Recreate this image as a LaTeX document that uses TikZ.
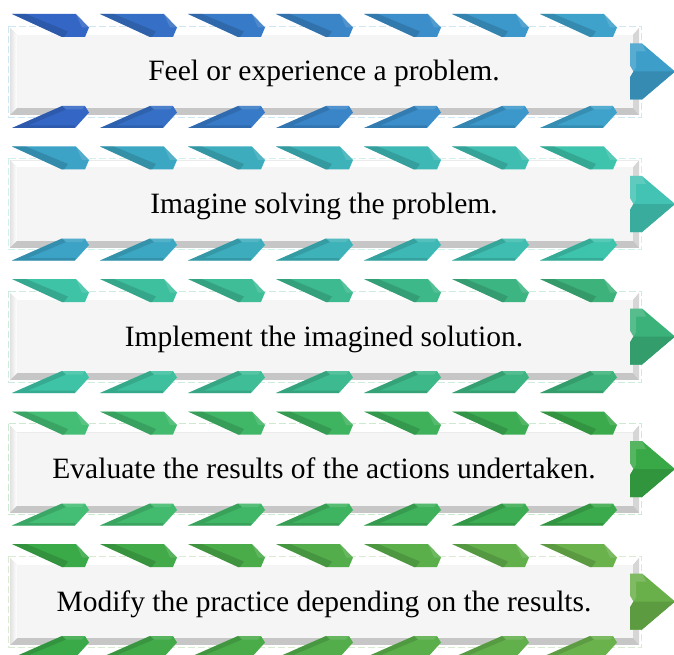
\documentclass[tikz,border=0pt]{standalone}
\usepackage{fontspec}
\setmainfont{Liberation Serif}
\definecolor{aL}{HTML}{3467C5}\definecolor{aR}{HTML}{3EA2CB}\definecolor{aA}{HTML}{3C9EC9}
\definecolor{bL}{HTML}{3CA2C6}\definecolor{bR}{HTML}{3EC3AC}\definecolor{bA}{HTML}{42C3B3}
\definecolor{cL}{HTML}{3EC3A6}\definecolor{cR}{HTML}{3DB27A}\definecolor{cA}{HTML}{3AB27A}
\definecolor{dL}{HTML}{43BE74}\definecolor{dR}{HTML}{3BAA4C}\definecolor{dA}{HTML}{38A946}
\definecolor{eL}{HTML}{3AA948}\definecolor{eR}{HTML}{6AB24C}\definecolor{eA}{HTML}{6AB04A}
\definecolor{bevelTop}{HTML}{FFFFFF}
\definecolor{bevelLeft}{HTML}{E2E2E2}
\definecolor{bevelBot}{HTML}{C6C6C6}
\definecolor{bevelRight}{HTML}{D6D6D6}
\definecolor{faceCol}{HTML}{F5F5F5}
\newcommand\rowblock[5]{%
  \pgfmathsetmacro\cc{71.5+132.5*(#1-1)}
  % selection outline
  \draw[dash pattern=on 7pt off 3pt, draw=#5!25, line width=0.5pt] (8.5,\cc-45.5) rectangle (641,\cc+45.5);
  % bevelled box
  \fill[bevelBot] (10,\cc-43.5) rectangle (639,\cc+43.5);
  \fill[bevelTop] (10,\cc-43.5) -- (639,\cc-43.5) -- (633,\cc-36.5) -- (17,\cc-36.5) -- cycle;
  \shade[left color=bevelLeft, right color=white] (10,\cc-43.5) -- (17,\cc-36.5) -- (17,\cc+36.5) -- (10,\cc+43.5) -- cycle;
  \fill[bevelRight] (639,\cc-43.5) -- (639,\cc+43.5) -- (633,\cc+36.5) -- (633,\cc-36.5) -- cycle;
  \fill[faceCol] (17,\cc-36.5) rectangle (633,\cc+36.5);
  \node[font=\fontsize{29.5}{33}\selectfont, anchor=base, inner sep=0pt] (t#1) at (324,\cc+9.5) {#2};
  % stripes
  \foreach \i in {0,...,6} {
    \pgfmathsetmacro\xx{12+88*\i}
    \pgfmathtruncatemacro\pc{100*\i/6}
    \colorlet{sc}{#4!\pc!#3}
    \fill[sc] (\xx,\cc-57.5) -- (\xx+64,\cc-57.5) -- (\xx+77,\cc-44) -- (\xx+73,\cc-34.5) -- (\xx+50,\cc-34.5) -- cycle;
    \fill[sc!70!black, opacity=0.45] (\xx,\cc-57.5) -- (\xx+14,\cc-57.5) -- (\xx+56,\cc-40) -- (\xx+52,\cc-34.5) -- (\xx+50,\cc-34.5) -- cycle;
    \fill[white, opacity=0.12] (\xx+64,\cc-57.5) -- (\xx+77,\cc-44) -- (\xx+70,\cc-44) -- cycle;
    \fill[sc] (\xx,\cc+56.5) -- (\xx+63,\cc+56.5) -- (\xx+77,\cc+41) -- (\xx+73,\cc+34.5) -- (\xx+50,\cc+34.5) -- cycle;
    \fill[sc!70!black, opacity=0.4] (\xx,\cc+56.5) -- (\xx+50,\cc+34.5) -- (\xx+54,\cc+38) -- (\xx+16,\cc+54) -- (\xx+63,\cc+54) -- (\xx+63,\cc+56.5) -- cycle;
    \fill[white, opacity=0.12] (\xx+50,\cc+34.5) -- (\xx+73,\cc+34.5) -- (\xx+70,\cc+38) -- (\xx+54,\cc+38) -- cycle;
  }
  % right arrow
  \fill[#5] (630,\cc-28) -- (642,\cc-28) -- (675,\cc) -- (642,\cc+28) -- (630,\cc+28) -- (630,\cc+6) -- (633.5,\cc) -- (630,\cc-6) -- cycle;
  \fill[#5!88!black] (633.5,\cc) -- (675,\cc) -- (642,\cc+28) -- (630,\cc+28) -- (630,\cc+6) -- cycle;
  \fill[white, opacity=0.15] (630,\cc-28) -- (642,\cc-28) -- (646,\cc-20) -- (636,\cc-20) -- (636,\cc-4) -- (633.5,\cc) -- (630,\cc-6) -- cycle;
}
\begin{document}
\begin{tikzpicture}[x=1pt,y=-1pt]
\useasboundingbox (0,0) rectangle (674,655);
\clip (0,0) rectangle (674,655);
\fill[white] (0,0) rectangle (674,655);
\rowblock{1}{Feel or experience a problem.}{aL}{aR}{aA}
\rowblock{2}{Imagine solving the problem.}{bL}{bR}{bA}
\rowblock{3}{Implement the imagined solution.}{cL}{cR}{cA}
\rowblock{4}{Evaluate the results of the actions undertaken.}{dL}{dR}{dA}
\rowblock{5}{Modify the practice depending on the results.}{eL}{eR}{eA}
\end{tikzpicture}
\end{document}
